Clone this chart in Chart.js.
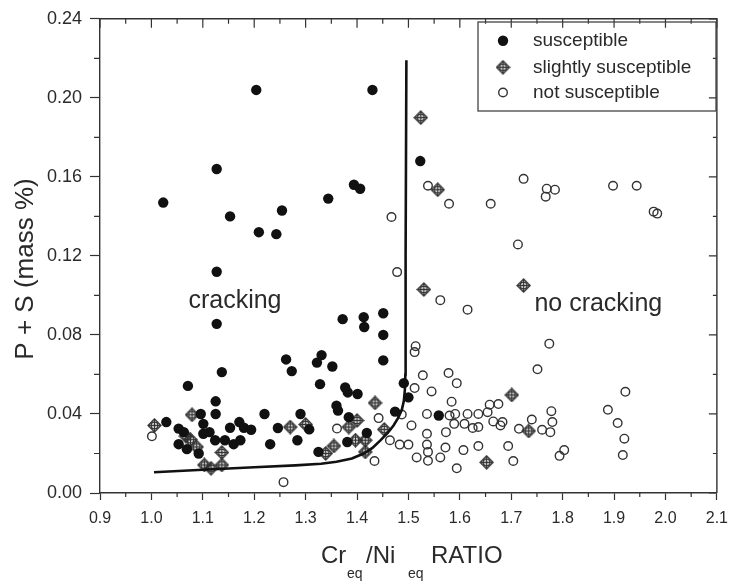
<!DOCTYPE html>
<html>
<head>
<meta charset="utf-8">
<script src="https://cdn.jsdelivr.net/npm/chart.js@4"></script>
<style>
  body { margin: 0; background: #fff; }
  #wrap { width: 737px; height: 584px; }
</style>
</head>
<body>
<div id="wrap"><canvas id="myChart" width="737" height="584"></canvas></div>
<script>
// ticks
const xTicks = [0.9, 1.0, 1.1, 1.2, 1.3, 1.4, 1.5, 1.6, 1.7, 1.8, 1.9, 2.0, 2.1];
const yTicks = [0, 0.04, 0.08, 0.12, 0.16, 0.20, 0.24];

// series (Cr/Ni ratio, P+S mass %)
const susceptible = [
  [1.023, 0.147], [1.204, 0.204], [1.430, 0.204], [1.127, 0.164], [1.523, 0.168],
  [1.394, 0.156], [1.406, 0.154], [1.344, 0.149], [1.153, 0.140], [1.209, 0.132],
  [1.243, 0.131], [1.254, 0.143], [1.127, 0.112], [1.127, 0.0856],
  [1.372, 0.088], [1.413, 0.089], [1.451, 0.091], [1.414, 0.084], [1.451, 0.080],
  [1.262, 0.0676], [1.331, 0.0698], [1.322, 0.066], [1.352, 0.064], [1.273, 0.0617],
  [1.451, 0.0671], [1.491, 0.0556], [1.328, 0.0551], [1.377, 0.0534], [1.382, 0.0509],
  [1.401, 0.0501], [1.500, 0.0484], [1.360, 0.0442], [1.363, 0.0417], [1.474, 0.0412],
  [1.559, 0.0392], [1.290, 0.040], [1.307, 0.0322], [1.384, 0.0384], [1.419, 0.0304],
  [1.381, 0.0258], [1.284, 0.0267], [1.325, 0.0208], [1.137, 0.0612], [1.071, 0.0542],
  [1.125, 0.0464], [1.125, 0.040], [1.096, 0.040], [1.220, 0.040], [1.029, 0.0359],
  [1.053, 0.0326], [1.063, 0.0308], [1.053, 0.0247], [1.069, 0.0222], [1.092, 0.020],
  [1.101, 0.035], [1.101, 0.030], [1.113, 0.0308], [1.124, 0.0267], [1.143, 0.0267],
  [1.153, 0.033], [1.160, 0.0247], [1.173, 0.0267], [1.171, 0.0359], [1.180, 0.033],
  [1.194, 0.032], [1.231, 0.0247], [1.246, 0.0329]
];

const slightly = [
  [1.524, 0.190], [1.557, 0.1535], [1.530, 0.103], [1.724, 0.105], [1.435, 0.0456],
  [1.300, 0.0347], [1.400, 0.0367], [1.384, 0.0334], [1.453, 0.0322], [1.397, 0.0267],
  [1.416, 0.0267], [1.339, 0.020], [1.355, 0.0238], [1.416, 0.0208], [1.652, 0.0155],
  [1.701, 0.0496], [1.734, 0.0314], [1.079, 0.0396], [1.006, 0.0342], [1.067, 0.0288],
  [1.076, 0.027], [1.088, 0.0233], [1.270, 0.0334], [1.137, 0.0205], [1.103, 0.0142],
  [1.116, 0.0125], [1.137, 0.0142]
];

const notSusceptible = [
  [1.724, 0.159], [1.769, 0.154], [1.785, 0.1535], [1.767, 0.150], [1.898, 0.1555],
  [1.944, 0.1555], [1.977, 0.1424], [1.984, 0.1414], [1.713, 0.1258], [1.774, 0.0756],
  [1.538, 0.1555], [1.579, 0.1464], [1.660, 0.1464], [1.467, 0.1397], [1.478, 0.1118],
  [1.562, 0.0976], [1.615, 0.0928], [1.514, 0.0743], [1.512, 0.0713], [1.528, 0.0596],
  [1.578, 0.0607], [1.594, 0.0556], [1.512, 0.0531], [1.545, 0.0514], [1.584, 0.0462],
  [1.658, 0.0447], [1.675, 0.045], [1.654, 0.0409], [1.665, 0.0362], [1.679, 0.0342],
  [1.487, 0.0397], [1.536, 0.040], [1.580, 0.0392], [1.591, 0.040], [1.589, 0.035],
  [1.615, 0.040], [1.609, 0.035], [1.636, 0.040], [1.625, 0.0329], [1.636, 0.0334],
  [1.361, 0.0326], [1.442, 0.0379], [1.506, 0.0342], [1.464, 0.0267], [1.483, 0.0245],
  [1.500, 0.0245], [1.536, 0.030], [1.536, 0.0245], [1.538, 0.0208], [1.538, 0.0163],
  [1.573, 0.0308], [1.572, 0.023], [1.562, 0.018], [1.516, 0.018], [1.607, 0.0217],
  [1.636, 0.0238], [1.594, 0.0125], [1.434, 0.0162], [1.751, 0.0626], [1.922, 0.0512],
  [1.778, 0.0414], [1.888, 0.0421], [1.740, 0.0372], [1.780, 0.0359], [1.683, 0.0359],
  [1.907, 0.0354], [1.715, 0.0325], [1.760, 0.032], [1.776, 0.0308], [1.920, 0.0275],
  [1.694, 0.0238], [1.803, 0.0217], [1.794, 0.0188], [1.917, 0.0192], [1.704, 0.0162],
  [1.001, 0.0287], [1.257, 0.0055]
];

// boundary curve
const boundary = [
  [1.005, 0.0105], [1.10, 0.0118], [1.20, 0.0130], [1.28, 0.0140], [1.33, 0.0148],
  [1.36, 0.0158], [1.39, 0.0175], [1.413, 0.0200], [1.43, 0.0228], [1.445, 0.0265],
  [1.46, 0.0305], [1.471, 0.0342], [1.480, 0.0380], [1.487, 0.0420], [1.491, 0.0465],
  [1.493, 0.0520], [1.494, 0.0600], [1.494, 0.0720], [1.495, 0.1200], [1.496, 0.2190]
];

const FONT = "'Liberation Sans', Arial, sans-serif";
const INK = '#2a2a2a';

function toPts(arr) {
  return arr.map(p => ({ x: p[0], y: p[1] }));
}

// crossed diamond marker
function makeDiamond() {
  const c = document.createElement('canvas');
  c.width = 15; c.height = 15;
  const g = c.getContext('2d');
  g.strokeStyle = '#333';
  g.lineWidth = 1.3;
  g.beginPath();
  g.moveTo(7.5, 1); g.lineTo(14, 7.5); g.lineTo(7.5, 14); g.lineTo(1, 7.5); g.closePath();
  g.stroke();
  g.beginPath();
  g.arc(7.5, 7.5, 3.4, 0, Math.PI * 2);
  g.stroke();
  g.beginPath();
  g.moveTo(7.5, 1.5); g.lineTo(7.5, 13.5);
  g.moveTo(1.5, 7.5); g.lineTo(13.5, 7.5);
  g.stroke();
  return c;
}
const diamond = makeDiamond();

const extras = {
  id: 'extras',
  afterDraw(chart) {
    const { ctx, chartArea: a, scales: { x, y } } = chart;
    ctx.save();
    ctx.strokeStyle = '#333';
    ctx.lineWidth = 1.4;
    // top and right frame
    ctx.beginPath();
    ctx.moveTo(a.left, a.top); ctx.lineTo(a.right, a.top); ctx.lineTo(a.right, a.bottom);
    ctx.stroke();

    ctx.lineWidth = 1.2;
    ctx.beginPath();
    for (let i = 0; i < xTicks.length; i++) {
      const px = x.getPixelForValue(xTicks[i]);
      ctx.moveTo(px, a.top); ctx.lineTo(px, a.top + 9);
      if (i < xTicks.length - 1) {
        const m = x.getPixelForValue((xTicks[i] + xTicks[i + 1]) / 2);
        ctx.moveTo(m, a.bottom); ctx.lineTo(m, a.bottom + 4);
        ctx.moveTo(m, a.top); ctx.lineTo(m, a.top + 5);
      }
    }
    for (let i = 0; i < yTicks.length; i++) {
      const py = y.getPixelForValue(yTicks[i]);
      ctx.moveTo(a.right, py); ctx.lineTo(a.right - 8, py);
      if (i < yTicks.length - 1) {
        const m = y.getPixelForValue((yTicks[i] + yTicks[i + 1]) / 2);
        ctx.moveTo(a.left, m); ctx.lineTo(a.left - 6, m);
        ctx.moveTo(a.right, m); ctx.lineTo(a.right - 4, m);
      }
    }
    ctx.stroke();

    // region labels
    ctx.fillStyle = INK;
    ctx.font = '25px ' + FONT;
    ctx.textAlign = 'left';
    ctx.textBaseline = 'alphabetic';
    ctx.fillText('cracking', x.getPixelForValue(1.072), y.getPixelForValue(0.0935));
    ctx.fillText('no cracking', x.getPixelForValue(1.745), y.getPixelForValue(0.0921));

    // legend
    ctx.strokeStyle = '#444';
    ctx.lineWidth = 1.3;
    ctx.strokeRect(478, 22, 238, 89);
    ctx.fillStyle = '#111';
    ctx.beginPath(); ctx.arc(503, 40.7, 5.2, 0, Math.PI * 2); ctx.fill();
    ctx.drawImage(diamond, 503 - 7.5, 67.3 - 7.5);
    ctx.strokeStyle = '#333';
    ctx.lineWidth = 1.4;
    ctx.beginPath(); ctx.arc(503, 92.5, 4.3, 0, Math.PI * 2); ctx.stroke();
    ctx.fillStyle = INK;
    ctx.font = '19px ' + FONT;
    ctx.textBaseline = 'middle';
    ctx.fillText('susceptible', 533, 40.7);
    ctx.fillText('slightly susceptible', 533, 67.3);
    ctx.fillText('not susceptible', 533, 92.5);

    // y axis title
    ctx.save();
    ctx.translate(26, 269);
    ctx.rotate(-Math.PI / 2);
    ctx.font = '26px ' + FONT;
    ctx.textAlign = 'center';
    ctx.fillText('P + S (mass %)', 0, 0);
    ctx.restore();

    // x axis title with subscripts
    ctx.textAlign = 'left';
    ctx.textBaseline = 'alphabetic';
    ctx.font = '24px ' + FONT;
    ctx.fillText('Cr', 321, 562.7);
    ctx.fillText('/Ni', 366, 562.7);
    ctx.fillText('RATIO', 431, 562.7);
    ctx.font = '14px ' + FONT;
    ctx.fillText('eq', 347, 578);
    ctx.fillText('eq', 408, 578);
    ctx.restore();
  }
};

const ctx = document.getElementById('myChart').getContext('2d');
const myChart = new Chart(ctx, {
  type: 'scatter',
  data: {
    datasets: [
      {
        label: 'boundary',
        data: toPts(boundary),
        showLine: true,
        borderColor: '#111',
        borderWidth: 2.6,
        pointRadius: 0,
        tension: 0
      },
      {
        label: 'susceptible',
        data: toPts(susceptible),
        pointStyle: 'circle',
        pointRadius: 5.2,
        backgroundColor: '#111',
        borderColor: '#111',
        borderWidth: 0
      },
      {
        label: 'slightly susceptible',
        data: toPts(slightly),
        pointStyle: diamond
      },
      {
        label: 'not susceptible',
        data: toPts(notSusceptible),
        pointStyle: 'circle',
        pointRadius: 4.3,
        backgroundColor: 'rgba(0,0,0,0)',
        borderColor: '#333',
        borderWidth: 1.4
      }
    ]
  },
  options: {
    responsive: false,
    animation: false,
    layout: { padding: { left: 0, right: 13, top: 14, bottom: 0 } },
    plugins: {
      legend: { display: false },
      tooltip: { enabled: false }
    },
    scales: {
      x: {
        type: 'linear',
        min: 0.9,
        max: 2.1,
        afterBuildTicks: s => { s.ticks = xTicks.map(v => ({ value: v })); },
        afterFit: s => { s.height = 91; },
        ticks: {
          callback: v => Number(v).toFixed(1),
          font: { size: 16, family: FONT },
          color: INK,
          padding: 9,
          maxRotation: 0
        },
        grid: { drawOnChartArea: false, tickLength: 7, tickColor: '#333', tickWidth: 1.2 },
        border: { color: '#333', width: 1.4 }
      },
      y: {
        type: 'linear',
        min: 0,
        max: 0.24,
        afterBuildTicks: s => { s.ticks = yTicks.map(v => ({ value: v })); },
        afterFit: s => { s.width = 100; },
        ticks: {
          callback: v => Number(v).toFixed(2),
          font: { size: 18, family: FONT },
          color: INK,
          padding: 8
        },
        grid: { drawOnChartArea: false, tickLength: 10, tickColor: '#333', tickWidth: 1.2 },
        border: { color: '#333', width: 1.4 }
      }
    }
  },
  plugins: [extras]
});
</script>
</body>
</html>
